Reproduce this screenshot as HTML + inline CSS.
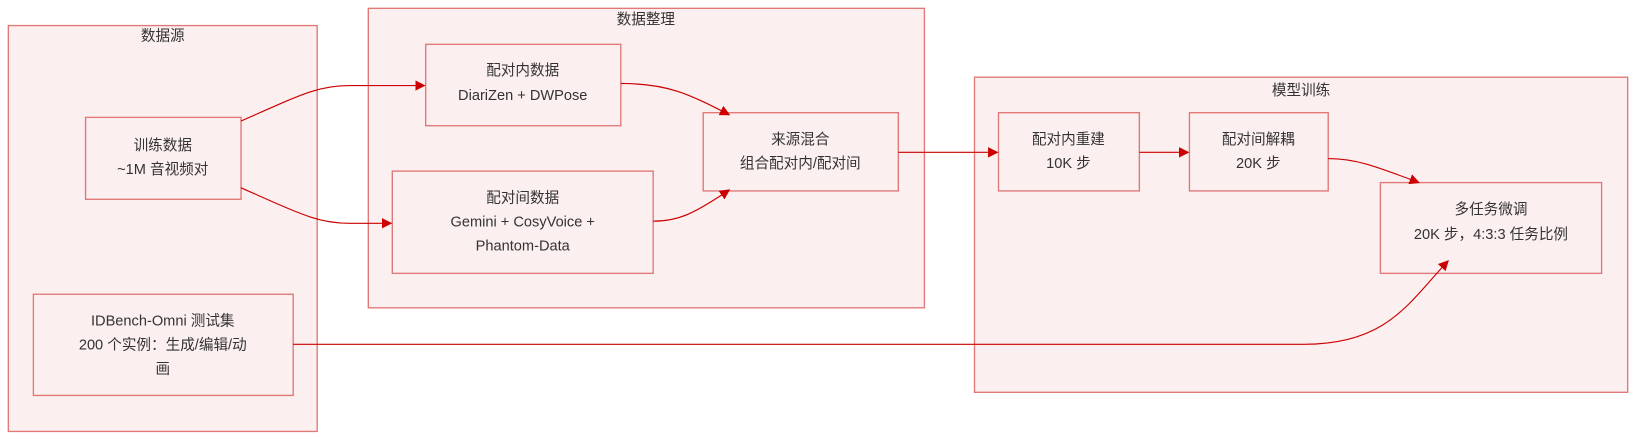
<!DOCTYPE html>
<html><head><meta charset="utf-8"><style>
html,body{margin:0;padding:0;background:#fff;}
svg text{font-family:"Liberation Sans","Noto Sans CJK SC",sans-serif;font-size:14px;fill:#333;text-anchor:middle;}
</style></head><body>
<svg width="1636" height="439" viewBox="0 0 1568 420.75" xmlns="http://www.w3.org/2000/svg" style="display:block">
<defs><marker id="a" markerWidth="10" markerHeight="10" refX="9" refY="5" orient="auto" markerUnits="userSpaceOnUse"><path d="M0,0 L10,5 L0,10 z" fill="#cc0000"/></marker></defs>
<g fill="#fcefef" stroke="#e07878" stroke-width="1.3">
<rect x="8" y="24.5" width="296" height="389"/>
<rect x="353" y="8" width="533" height="287"/>
<rect x="934" y="74" width="626" height="302"/>
<rect x="82" y="112.5" width="149" height="78.5"/>
<rect x="32" y="282" width="249" height="97"/>
<rect x="408" y="42.5" width="187" height="78"/>
<rect x="376" y="164" width="250" height="98"/>
<rect x="674" y="108" width="187" height="75"/>
<rect x="957" y="108" width="135" height="75"/>
<rect x="1140" y="108" width="133" height="75"/>
<rect x="1323" y="175" width="212" height="87"/>
</g>
<g fill="none" stroke="#cc0000" stroke-width="1.1" marker-end="url(#a)">
<path d="M231,116 C290,90 305,82 335,82 L407,82"/>
<path d="M231,180 C290,206 305,214 335,214 L375,214"/>
<path d="M595,80 C640,80 660,90 699,110"/>
<path d="M626,212 C650,212 665,205 699,182"/>
<path d="M861,146 L956,146"/>
<path d="M1092,146 L1139,146"/>
<path d="M1273,152 C1300,152 1320,160 1360,175"/>
<path d="M281,330 L1250,330 C1330,330 1350,290 1388,250"/>
</g>
<text x="156" y="39">数据源</text>
<text x="619" y="23">数据整理</text>
<text x="1247" y="91">模型训练</text>
<text x="156" y="144">训练数据</text>
<text x="156" y="167">~1M 音视频对</text>
<text x="156" y="312">IDBench-Omni 测试集</text>
<text x="156" y="335">200 个实例：生成/编辑/动</text>
<text x="156" y="358">画</text>
<text x="501" y="72">配对内数据</text>
<text x="501" y="96">DiariZen + DWPose</text>
<text x="501" y="194">配对间数据</text>
<text x="501" y="217">Gemini + CosyVoice +</text>
<text x="501" y="240">Phantom-Data</text>
<text x="767" y="138">来源混合</text>
<text x="767" y="161">组合配对内/配对间</text>
<text x="1024" y="138">配对内重建</text>
<text x="1024" y="161">10K 步</text>
<text x="1206" y="138">配对间解耦</text>
<text x="1206" y="161">20K 步</text>
<text x="1429" y="205">多任务微调</text>
<text x="1429" y="229">20K 步，4:3:3 任务比例</text>
</svg>
</body></html>
